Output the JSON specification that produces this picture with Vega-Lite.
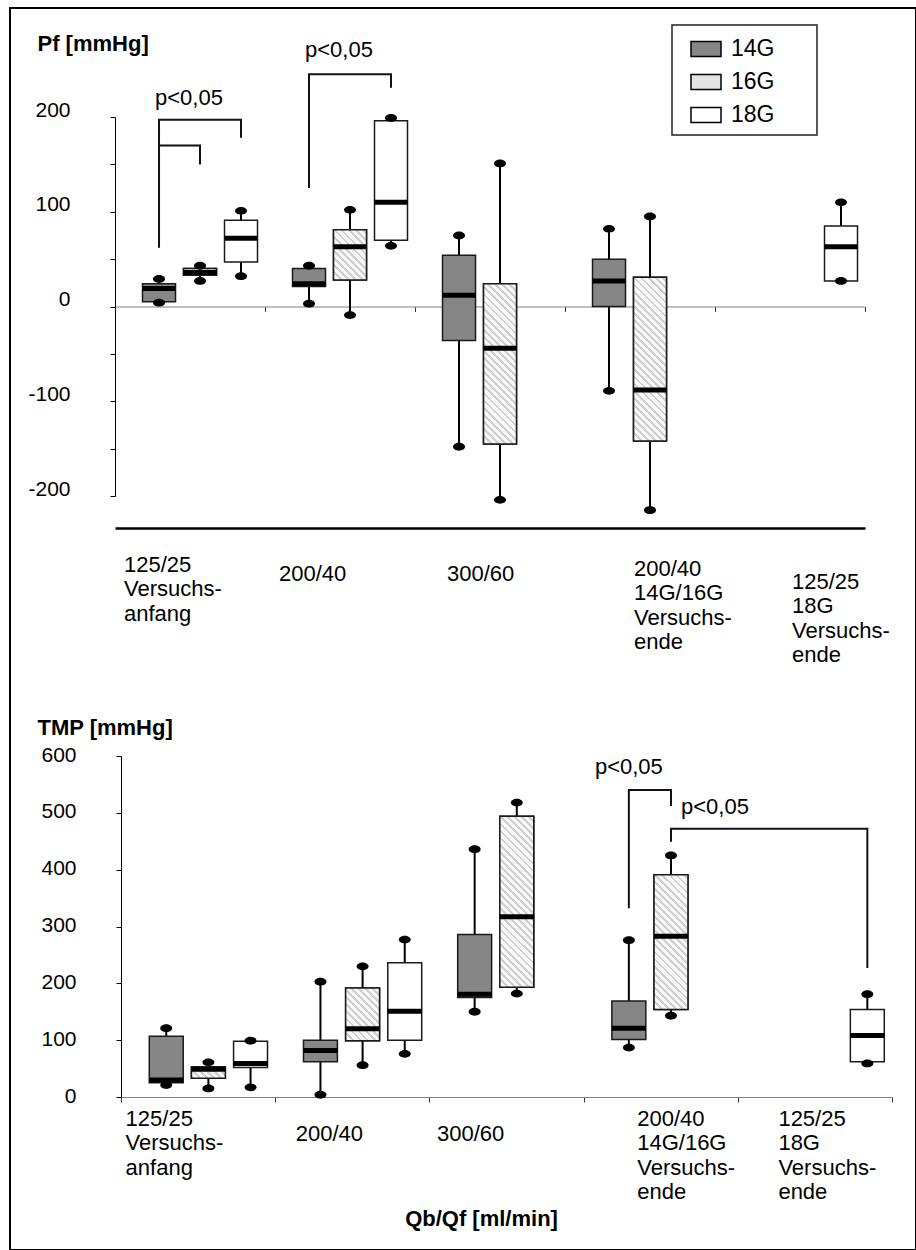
{
  "$schema": "https://vega.github.io/schema/vega-lite/v6.json",
  "width": 906,
  "height": 1242,
  "autosize": {"type": "none"},
  "padding": {"left": 10, "top": 8, "right": 0, "bottom": 0},
  "background": "white",
  "params": [
    {"name": "hatch", "value": [
      {"offset": 0, "color": "#cfcfcf"}, {"offset": 0.0133, "color": "#cfcfcf"}, {"offset": 0.0133, "color": "#f8f8f8"}, {"offset": 0.0333, "color": "#f8f8f8"},
      {"offset": 0.0333, "color": "#cfcfcf"}, {"offset": 0.0467, "color": "#cfcfcf"}, {"offset": 0.0467, "color": "#f8f8f8"}, {"offset": 0.0667, "color": "#f8f8f8"},
      {"offset": 0.0667, "color": "#cfcfcf"}, {"offset": 0.08, "color": "#cfcfcf"}, {"offset": 0.08, "color": "#f8f8f8"}, {"offset": 0.1, "color": "#f8f8f8"},
      {"offset": 0.1, "color": "#cfcfcf"}, {"offset": 0.1133, "color": "#cfcfcf"}, {"offset": 0.1133, "color": "#f8f8f8"}, {"offset": 0.1333, "color": "#f8f8f8"},
      {"offset": 0.1333, "color": "#cfcfcf"}, {"offset": 0.1467, "color": "#cfcfcf"}, {"offset": 0.1467, "color": "#f8f8f8"}, {"offset": 0.1667, "color": "#f8f8f8"},
      {"offset": 0.1667, "color": "#cfcfcf"}, {"offset": 0.18, "color": "#cfcfcf"}, {"offset": 0.18, "color": "#f8f8f8"}, {"offset": 0.2, "color": "#f8f8f8"},
      {"offset": 0.2, "color": "#cfcfcf"}, {"offset": 0.2133, "color": "#cfcfcf"}, {"offset": 0.2133, "color": "#f8f8f8"}, {"offset": 0.2333, "color": "#f8f8f8"},
      {"offset": 0.2333, "color": "#cfcfcf"}, {"offset": 0.2467, "color": "#cfcfcf"}, {"offset": 0.2467, "color": "#f8f8f8"}, {"offset": 0.2667, "color": "#f8f8f8"},
      {"offset": 0.2667, "color": "#cfcfcf"}, {"offset": 0.28, "color": "#cfcfcf"}, {"offset": 0.28, "color": "#f8f8f8"}, {"offset": 0.3, "color": "#f8f8f8"},
      {"offset": 0.3, "color": "#cfcfcf"}, {"offset": 0.3133, "color": "#cfcfcf"}, {"offset": 0.3133, "color": "#f8f8f8"}, {"offset": 0.3333, "color": "#f8f8f8"},
      {"offset": 0.3333, "color": "#cfcfcf"}, {"offset": 0.3467, "color": "#cfcfcf"}, {"offset": 0.3467, "color": "#f8f8f8"}, {"offset": 0.3667, "color": "#f8f8f8"},
      {"offset": 0.3667, "color": "#cfcfcf"}, {"offset": 0.38, "color": "#cfcfcf"}, {"offset": 0.38, "color": "#f8f8f8"}, {"offset": 0.4, "color": "#f8f8f8"},
      {"offset": 0.4, "color": "#cfcfcf"}, {"offset": 0.4133, "color": "#cfcfcf"}, {"offset": 0.4133, "color": "#f8f8f8"}, {"offset": 0.4333, "color": "#f8f8f8"},
      {"offset": 0.4333, "color": "#cfcfcf"}, {"offset": 0.4467, "color": "#cfcfcf"}, {"offset": 0.4467, "color": "#f8f8f8"}, {"offset": 0.4667, "color": "#f8f8f8"},
      {"offset": 0.4667, "color": "#cfcfcf"}, {"offset": 0.48, "color": "#cfcfcf"}, {"offset": 0.48, "color": "#f8f8f8"}, {"offset": 0.5, "color": "#f8f8f8"},
      {"offset": 0.5, "color": "#cfcfcf"}, {"offset": 0.5133, "color": "#cfcfcf"}, {"offset": 0.5133, "color": "#f8f8f8"}, {"offset": 0.5333, "color": "#f8f8f8"},
      {"offset": 0.5333, "color": "#cfcfcf"}, {"offset": 0.5467, "color": "#cfcfcf"}, {"offset": 0.5467, "color": "#f8f8f8"}, {"offset": 0.5667, "color": "#f8f8f8"},
      {"offset": 0.5667, "color": "#cfcfcf"}, {"offset": 0.58, "color": "#cfcfcf"}, {"offset": 0.58, "color": "#f8f8f8"}, {"offset": 0.6, "color": "#f8f8f8"},
      {"offset": 0.6, "color": "#cfcfcf"}, {"offset": 0.6133, "color": "#cfcfcf"}, {"offset": 0.6133, "color": "#f8f8f8"}, {"offset": 0.6333, "color": "#f8f8f8"},
      {"offset": 0.6333, "color": "#cfcfcf"}, {"offset": 0.6467, "color": "#cfcfcf"}, {"offset": 0.6467, "color": "#f8f8f8"}, {"offset": 0.6667, "color": "#f8f8f8"},
      {"offset": 0.6667, "color": "#cfcfcf"}, {"offset": 0.68, "color": "#cfcfcf"}, {"offset": 0.68, "color": "#f8f8f8"}, {"offset": 0.7, "color": "#f8f8f8"},
      {"offset": 0.7, "color": "#cfcfcf"}, {"offset": 0.7133, "color": "#cfcfcf"}, {"offset": 0.7133, "color": "#f8f8f8"}, {"offset": 0.7333, "color": "#f8f8f8"},
      {"offset": 0.7333, "color": "#cfcfcf"}, {"offset": 0.7467, "color": "#cfcfcf"}, {"offset": 0.7467, "color": "#f8f8f8"}, {"offset": 0.7667, "color": "#f8f8f8"},
      {"offset": 0.7667, "color": "#cfcfcf"}, {"offset": 0.78, "color": "#cfcfcf"}, {"offset": 0.78, "color": "#f8f8f8"}, {"offset": 0.8, "color": "#f8f8f8"},
      {"offset": 0.8, "color": "#cfcfcf"}, {"offset": 0.8133, "color": "#cfcfcf"}, {"offset": 0.8133, "color": "#f8f8f8"}, {"offset": 0.8333, "color": "#f8f8f8"},
      {"offset": 0.8333, "color": "#cfcfcf"}, {"offset": 0.8467, "color": "#cfcfcf"}, {"offset": 0.8467, "color": "#f8f8f8"}, {"offset": 0.8667, "color": "#f8f8f8"},
      {"offset": 0.8667, "color": "#cfcfcf"}, {"offset": 0.88, "color": "#cfcfcf"}, {"offset": 0.88, "color": "#f8f8f8"}, {"offset": 0.9, "color": "#f8f8f8"},
      {"offset": 0.9, "color": "#cfcfcf"}, {"offset": 0.9133, "color": "#cfcfcf"}, {"offset": 0.9133, "color": "#f8f8f8"}, {"offset": 0.9333, "color": "#f8f8f8"},
      {"offset": 0.9333, "color": "#cfcfcf"}, {"offset": 0.9467, "color": "#cfcfcf"}, {"offset": 0.9467, "color": "#f8f8f8"}, {"offset": 0.9667, "color": "#f8f8f8"},
      {"offset": 0.9667, "color": "#cfcfcf"}, {"offset": 0.98, "color": "#cfcfcf"}, {"offset": 0.98, "color": "#f8f8f8"}, {"offset": 1, "color": "#f8f8f8"}
    ]}
  ],
  "config": {
    "font": "Liberation Sans",
    "view": {"stroke": "black", "strokeWidth": 2},
    "axis": {"labelFont": "Liberation Sans", "titleFont": "Liberation Sans", "labelColor": "black", "titleColor": "black", "grid": false, "labelAngle": 0},
    "legend": {"strokeWidth": 1.5}
  },
  "datasets": {
    "pf": [
      {"cat": "125/25 Versuchsanfang", "group": "14G", "min": 4, "q1": 5, "median": 19, "q3": 24, "max": 29},
      {"cat": "125/25 Versuchsanfang", "group": "16G", "min": 27, "q1": 33, "median": 36, "q3": 40, "max": 43},
      {"cat": "125/25 Versuchsanfang", "group": "18G", "min": 32, "q1": 47, "median": 72, "q3": 91, "max": 101},
      {"cat": "200/40", "group": "14G", "min": 3, "q1": 21, "median": 24, "q3": 40, "max": 43},
      {"cat": "200/40", "group": "16G", "min": -9, "q1": 28, "median": 63, "q3": 81, "max": 102},
      {"cat": "200/40", "group": "18G", "min": 64, "q1": 70, "median": 110, "q3": 196, "max": 199},
      {"cat": "300/60", "group": "14G", "min": -148, "q1": -36, "median": 12, "q3": 54, "max": 75},
      {"cat": "300/60", "group": "16G", "min": -204, "q1": -145, "median": -44, "q3": 24, "max": 151},
      {"cat": "200/40 14G/16G Versuchsende", "group": "14G", "min": -89, "q1": 0, "median": 27, "q3": 50, "max": 82},
      {"cat": "200/40 14G/16G Versuchsende", "group": "16G", "min": -215, "q1": -142, "median": -88, "q3": 31, "max": 95},
      {"cat": "125/25 18G Versuchsende", "group": "18G", "min": 27, "q1": 27, "median": 63, "q3": 85, "max": 110}
    ],
    "tmp": [
      {"cat": "125/25 Versuchsanfang", "group": "14G", "min": 21, "q1": 25, "median": 30, "q3": 107, "max": 121},
      {"cat": "125/25 Versuchsanfang", "group": "16G", "min": 15, "q1": 33, "median": 49, "q3": 53, "max": 61},
      {"cat": "125/25 Versuchsanfang", "group": "18G", "min": 17, "q1": 52, "median": 59, "q3": 98, "max": 99},
      {"cat": "200/40", "group": "14G", "min": 4, "q1": 62, "median": 82, "q3": 100, "max": 203},
      {"cat": "200/40", "group": "16G", "min": 56, "q1": 99, "median": 120, "q3": 192, "max": 230},
      {"cat": "200/40", "group": "18G", "min": 76, "q1": 100, "median": 151, "q3": 236, "max": 277},
      {"cat": "300/60", "group": "14G", "min": 150, "q1": 175, "median": 181, "q3": 286, "max": 436},
      {"cat": "300/60", "group": "16G", "min": 182, "q1": 193, "median": 317, "q3": 494, "max": 518},
      {"cat": "200/40 14G/16G Versuchsende", "group": "14G", "min": 87, "q1": 101, "median": 121, "q3": 169, "max": 276},
      {"cat": "200/40 14G/16G Versuchsende", "group": "16G", "min": 143, "q1": 154, "median": 283, "q3": 391, "max": 425},
      {"cat": "125/25 18G Versuchsende", "group": "18G", "min": 59, "q1": 62, "median": 108, "q3": 154, "max": 181}
    ],
    "pfBrackets": [
      {"id": "A1", "seq": 1, "cat": "125/25 Versuchsanfang", "group": "14G", "value": 62},
      {"id": "A1", "seq": 2, "cat": "125/25 Versuchsanfang", "group": "14G", "value": 197},
      {"id": "A1", "seq": 3, "cat": "125/25 Versuchsanfang", "group": "18G", "value": 197},
      {"id": "A1", "seq": 4, "cat": "125/25 Versuchsanfang", "group": "18G", "value": 178},
      {"id": "A2", "seq": 1, "cat": "125/25 Versuchsanfang", "group": "14G", "value": 170},
      {"id": "A2", "seq": 2, "cat": "125/25 Versuchsanfang", "group": "16G", "value": 170},
      {"id": "A2", "seq": 3, "cat": "125/25 Versuchsanfang", "group": "16G", "value": 150},
      {"id": "B", "seq": 1, "cat": "200/40", "group": "14G", "value": 125},
      {"id": "B", "seq": 2, "cat": "200/40", "group": "14G", "value": 245},
      {"id": "B", "seq": 3, "cat": "200/40", "group": "18G", "value": 245},
      {"id": "B", "seq": 4, "cat": "200/40", "group": "18G", "value": 231}
    ],
    "tmpBrackets": [
      {"id": "C", "seq": 1, "cat": "200/40 14G/16G Versuchsende", "group": "14G", "value": 332},
      {"id": "C", "seq": 2, "cat": "200/40 14G/16G Versuchsende", "group": "14G", "value": 540},
      {"id": "C", "seq": 3, "cat": "200/40 14G/16G Versuchsende", "group": "16G", "value": 540},
      {"id": "C", "seq": 4, "cat": "200/40 14G/16G Versuchsende", "group": "16G", "value": 512},
      {"id": "D", "seq": 1, "cat": "200/40 14G/16G Versuchsende", "group": "16G", "value": 449},
      {"id": "D", "seq": 2, "cat": "200/40 14G/16G Versuchsende", "group": "16G", "value": 472},
      {"id": "D", "seq": 3, "cat": "125/25 18G Versuchsende", "group": "18G", "value": 472},
      {"id": "D", "seq": 4, "cat": "125/25 18G Versuchsende", "group": "18G", "value": 227}
    ],
    "pfNotes": [
      {"id": "A", "cat": "125/25 Versuchsanfang", "group": "14G", "value": 220, "text": "p<0,05"},
      {"id": "B", "cat": "200/40", "group": "14G", "value": 271, "text": "p<0,05"}
    ],
    "tmpNotes": [
      {"id": "C", "cat": "200/40 14G/16G Versuchsende", "group": "14G", "value": 581, "text": "p<0,05"},
      {"id": "D", "cat": "200/40 14G/16G Versuchsende", "group": "16G", "value": 511, "text": "p<0,05"}
    ]
  },
  "layer": [
    {
      "data": {"name": "pf"},
      "mark": {"type": "rule", "color": "black", "strokeWidth": 2},
      "encoding": {
        "x": {
          "field": "cat", "type": "nominal",
          "scale": {"type": "band", "domain": ["125/25 Versuchsanfang", "200/40", "300/60", "200/40 14G/16G Versuchsende", "125/25 18G Versuchsende"], "range": [105, 855], "paddingInner": 0, "paddingOuter": 0},
          "axis": {"orient": "bottom", "offset": -943.5, "labels": false, "title": null, "domainColor": "#808080", "domainWidth": 1, "ticks": true, "tickBand": "extent", "tickSize": 5, "tickColor": "#333333", "tickWidth": 1}
        },
        "xOffset": {"field": "group", "type": "nominal", "scale": {"type": "band", "domain": ["14G", "16G", "18G"], "paddingInner": 0.195, "paddingOuter": 0.427, "align": 0.786}},
        "y": {
          "field": "min", "type": "quantitative",
          "scale": {"domain": [-200, 200], "range": [488, 109], "nice": false, "zero": false},
          "axis": {"orient": "left", "offset": -105, "values": [-200, -150, -100, -50, 0, 50, 100, 150, 200], "labelExpr": "datum.value % 100 == 0 ? '' + datum.value : ''", "labelFontSize": 21, "labelPadding": 40, "labelOffset": -7, "labelOverlap": false, "tickSize": 5, "tickColor": "black", "domainColor": "black", "domainWidth": 1, "title": "Pf [mmHg]", "titleAngle": 0, "titleAlign": "left", "titleBaseline": "middle", "titleX": -78, "titleY": 35, "titleFontSize": 22, "titleFontWeight": "bold"}
        },
        "y2": {"field": "max"}
      }
    },
    {
      "data": {"name": "pf"},
      "mark": {"type": "bar", "stroke": "#1a1a1a", "strokeWidth": 1.5},
      "encoding": {
        "x": {
          "field": "cat", "type": "nominal",
          "scale": {"type": "band", "domain": ["125/25 Versuchsanfang", "200/40", "300/60", "200/40 14G/16G Versuchsende", "125/25 18G Versuchsende"], "range": [105, 855], "paddingInner": 0, "paddingOuter": 0},
          "axis": {
            "orient": "bottom", "offset": -722, "title": null, "domainColor": "black", "domainWidth": 2.5, "ticks": false, "tickSize": 0, "labelAngle": 0,
            "labelAlign": "left", "labelBaseline": "top", "labelFontSize": 22, "labelLineHeight": 24.5, "labelOverlap": false, "labelLimit": 300,
            "labelExpr": "datum.value == '125/25 Versuchsanfang' ? ['125/25', 'Versuchs-', 'anfang'] : datum.value == '200/40 14G/16G Versuchsende' ? ['200/40', '14G/16G', 'Versuchs-', 'ende'] : datum.value == '125/25 18G Versuchsende' ? ['125/25', '18G', 'Versuchs-', 'ende'] : datum.label",
            "labelOffset": {"condition": [
              {"test": "datum.value == '125/25 Versuchsanfang'", "value": -66},
              {"test": "datum.value == '200/40'", "value": -61},
              {"test": "datum.value == '300/60'", "value": -43},
              {"test": "datum.value == '200/40 14G/16G Versuchsende'", "value": -6}
            ], "value": 2},
            "labelPadding": {"condition": [
              {"test": "datum.value == '125/25 Versuchsanfang'", "value": 26},
              {"test": "datum.value == '200/40'", "value": 35},
              {"test": "datum.value == '300/60'", "value": 35},
              {"test": "datum.value == '200/40 14G/16G Versuchsende'", "value": 30}
            ], "value": 43}
          }
        },
        "xOffset": {"field": "group", "type": "nominal", "scale": {"type": "band", "domain": ["14G", "16G", "18G"], "paddingInner": 0.195, "paddingOuter": 0.427, "align": 0.786}},
        "y": {"field": "q1", "type": "quantitative", "scale": {"domain": [-200, 200], "range": [488, 109], "nice": false, "zero": false}, "axis": null},
        "y2": {"field": "q3"},
        "fill": {
          "field": "group", "type": "nominal",
          "scale": {"domain": ["14G", "16G", "18G"], "range": ["#868686", "#e4e4e4", "#ffffff"]},
          "legend": {"title": null, "orient": "none", "legendX": 662, "legendY": 17, "direction": "vertical", "symbolType": "M-1,-0.5H1V0.5H-1Z", "symbolSize": 900, "symbolStrokeColor": "black", "symbolStrokeWidth": 1.5, "labelFontSize": 23, "labelFont": "Liberation Sans", "labelColor": "black", "labelOffset": 9, "symbolOffset": 10, "padding": 8, "rowPadding": 5, "strokeColor": "#222222", "labelExpr": "datum.label + '\u2800\u2800'"}
        }
      }
    },
    {
      "data": {"name": "pf"},
      "transform": [{"filter": "datum.group == '16G'"}],
      "mark": {"type": "bar", "stroke": "#1a1a1a", "strokeWidth": 1.5, "fill": {"expr": "{gradient: 'linear', x1: 0, y1: 1, x2: 212.13 * 33 / (1089 + pow((datum.q3 - datum.q1) * 0.9475, 2)), y2: 1 - 212.13 * (datum.q3 - datum.q1) * 0.9475 / (1089 + pow((datum.q3 - datum.q1) * 0.9475, 2)), stops: hatch}"}},
      "encoding": {
        "x": {"field": "cat", "type": "nominal", "scale": {"type": "band", "domain": ["125/25 Versuchsanfang", "200/40", "300/60", "200/40 14G/16G Versuchsende", "125/25 18G Versuchsende"], "range": [105, 855], "paddingInner": 0, "paddingOuter": 0}, "axis": null},
        "xOffset": {"field": "group", "type": "nominal", "scale": {"type": "band", "domain": ["14G", "16G", "18G"], "paddingInner": 0.195, "paddingOuter": 0.427, "align": 0.786}},
        "y": {"field": "q1", "type": "quantitative", "scale": {"domain": [-200, 200], "range": [488, 109], "nice": false, "zero": false}, "axis": null},
        "y2": {"field": "q3"}
      }
    },
    {
      "data": {"name": "pf"},
      "mark": {"type": "tick", "color": "black", "thickness": 5, "size": 33, "opacity": 1},
      "encoding": {
        "x": {"field": "cat", "type": "nominal", "scale": {"type": "band", "domain": ["125/25 Versuchsanfang", "200/40", "300/60", "200/40 14G/16G Versuchsende", "125/25 18G Versuchsende"], "range": [105, 855], "paddingInner": 0, "paddingOuter": 0}, "axis": null},
        "xOffset": {"field": "group", "type": "nominal", "scale": {"type": "band", "domain": ["14G", "16G", "18G"], "paddingInner": 0.195, "paddingOuter": 0.427, "align": 0.786}},
        "y": {"field": "median", "type": "quantitative", "scale": {"domain": [-200, 200], "range": [488, 109], "nice": false, "zero": false}, "axis": null}
      }
    },
    {
      "data": {"name": "pf"},
      "mark": {"type": "point", "shape": "M-1,0A1,0.65,0,1,0,1,0A1,0.65,0,1,0,-1,0Z", "size": 144, "filled": true, "color": "black", "opacity": 1},
      "encoding": {
        "x": {"field": "cat", "type": "nominal", "scale": {"type": "band", "domain": ["125/25 Versuchsanfang", "200/40", "300/60", "200/40 14G/16G Versuchsende", "125/25 18G Versuchsende"], "range": [105, 855], "paddingInner": 0, "paddingOuter": 0}, "axis": null},
        "xOffset": {"field": "group", "type": "nominal", "scale": {"type": "band", "domain": ["14G", "16G", "18G"], "paddingInner": 0.195, "paddingOuter": 0.427, "align": 0.786}},
        "y": {"field": "min", "type": "quantitative", "scale": {"domain": [-200, 200], "range": [488, 109], "nice": false, "zero": false}, "axis": null}
      }
    },
    {
      "data": {"name": "pf"},
      "mark": {"type": "point", "shape": "M-1,0A1,0.65,0,1,0,1,0A1,0.65,0,1,0,-1,0Z", "size": 144, "filled": true, "color": "black", "opacity": 1},
      "encoding": {
        "x": {"field": "cat", "type": "nominal", "scale": {"type": "band", "domain": ["125/25 Versuchsanfang", "200/40", "300/60", "200/40 14G/16G Versuchsende", "125/25 18G Versuchsende"], "range": [105, 855], "paddingInner": 0, "paddingOuter": 0}, "axis": null},
        "xOffset": {"field": "group", "type": "nominal", "scale": {"type": "band", "domain": ["14G", "16G", "18G"], "paddingInner": 0.195, "paddingOuter": 0.427, "align": 0.786}},
        "y": {"field": "max", "type": "quantitative", "scale": {"domain": [-200, 200], "range": [488, 109], "nice": false, "zero": false}, "axis": null}
      }
    },
    {
      "data": {"name": "pfBrackets"},
      "mark": {"type": "line", "color": "#111111", "strokeWidth": 2},
      "encoding": {
        "x": {"field": "cat", "type": "nominal", "scale": {"type": "band", "domain": ["125/25 Versuchsanfang", "200/40", "300/60", "200/40 14G/16G Versuchsende", "125/25 18G Versuchsende"], "range": [105, 855], "paddingInner": 0, "paddingOuter": 0}, "axis": null},
        "xOffset": {"field": "group", "type": "nominal", "scale": {"type": "band", "domain": ["14G", "16G", "18G"], "paddingInner": 0.195, "paddingOuter": 0.427, "align": 0.786}},
        "y": {"field": "value", "type": "quantitative", "scale": {"domain": [-200, 200], "range": [488, 109], "nice": false, "zero": false}, "axis": null},
        "detail": {"field": "id", "type": "nominal"},
        "order": {"field": "seq", "type": "quantitative"}
      }
    },
    {
      "data": {"name": "pfNotes"},
      "mark": {"type": "text", "align": "left", "baseline": "middle", "fontSize": 22, "font": "Liberation Sans", "color": "black", "dx": -4},
      "encoding": {
        "x": {"field": "cat", "type": "nominal", "scale": {"type": "band", "domain": ["125/25 Versuchsanfang", "200/40", "300/60", "200/40 14G/16G Versuchsende", "125/25 18G Versuchsende"], "range": [105, 855], "paddingInner": 0, "paddingOuter": 0}, "axis": null},
        "xOffset": {"field": "group", "type": "nominal", "scale": {"type": "band", "domain": ["14G", "16G", "18G"], "paddingInner": 0.195, "paddingOuter": 0.427, "align": 0.786}},
        "y": {"field": "value", "type": "quantitative", "scale": {"domain": [-200, 200], "range": [488, 109], "nice": false, "zero": false}, "axis": null},
        "text": {"field": "text"}
      }
    },
    {
      "data": {"name": "tmp"},
      "mark": {"type": "rule", "color": "black", "strokeWidth": 2},
      "encoding": {
        "x": {
          "field": "cat", "type": "nominal",
          "scale": {"type": "band", "domain": ["125/25 Versuchsanfang", "200/40", "300/60", "200/40 14G/16G Versuchsende", "125/25 18G Versuchsende"], "range": [111, 882], "paddingInner": 0, "paddingOuter": 0},
          "axis": {
            "orient": "bottom", "offset": -153, "domainColor": "#808080", "domainWidth": 1, "ticks": true, "tickBand": "extent", "tickSize": 5, "tickColor": "#333333", "tickWidth": 1, "labelAngle": 0,
            "labelAlign": "left", "labelBaseline": "top", "labelFontSize": 22, "labelLineHeight": 24.5, "labelOverlap": false, "labelLimit": 300,
            "labelExpr": "datum.value == '125/25 Versuchsanfang' ? ['125/25', 'Versuchs-', 'anfang'] : datum.value == '200/40 14G/16G Versuchsende' ? ['200/40', '14G/16G', 'Versuchs-', 'ende'] : datum.value == '125/25 18G Versuchsende' ? ['125/25', '18G', 'Versuchs-', 'ende'] : datum.label",
            "labelOffset": {"condition": [
              {"test": "datum.value == '125/25 Versuchsanfang'", "value": -73},
              {"test": "datum.value == '200/40'", "value": -57},
              {"test": "datum.value == '300/60'", "value": -70},
              {"test": "datum.value == '200/40 14G/16G Versuchsende'", "value": -24}
            ], "value": -37},
            "labelPadding": {"condition": [
              {"test": "datum.value == '200/40'", "value": 21},
              {"test": "datum.value == '300/60'", "value": 21}
            ], "value": 6},
            "title": "Qb/Qf [ml/min]", "titleFontSize": 22, "titleFontWeight": "bold", "titleX": 471, "titleY": 121, "titleAlign": "center", "titleBaseline": "middle"
          }
        },
        "xOffset": {"field": "group", "type": "nominal", "scale": {"type": "band", "domain": ["14G", "16G", "18G"], "paddingInner": 0.195, "paddingOuter": 0.427, "align": 0.786}},
        "y": {
          "field": "min", "type": "quantitative",
          "scale": {"domain": [0, 600], "range": [1089, 748], "nice": false, "zero": false},
          "axis": {"orient": "left", "offset": -111, "values": [0, 100, 200, 300, 400, 500, 600], "labelExpr": "'' + datum.value", "labelFontSize": 21, "labelPadding": 40, "labelOffset": -1, "labelOverlap": false, "tickSize": 5, "tickColor": "black", "domainColor": "black", "domainWidth": 1, "title": "TMP [mmHg]", "titleAngle": 0, "titleAlign": "left", "titleBaseline": "middle", "titleX": -84, "titleY": 719, "titleFontSize": 22, "titleFontWeight": "bold"}
        },
        "y2": {"field": "max"}
      }
    },
    {
      "data": {"name": "tmp"},
      "mark": {"type": "bar", "stroke": "#1a1a1a", "strokeWidth": 1.5},
      "encoding": {
        "x": {"field": "cat", "type": "nominal", "scale": {"type": "band", "domain": ["125/25 Versuchsanfang", "200/40", "300/60", "200/40 14G/16G Versuchsende", "125/25 18G Versuchsende"], "range": [111, 882], "paddingInner": 0, "paddingOuter": 0}, "axis": null},
        "xOffset": {"field": "group", "type": "nominal", "scale": {"type": "band", "domain": ["14G", "16G", "18G"], "paddingInner": 0.195, "paddingOuter": 0.427, "align": 0.786}},
        "y": {"field": "q1", "type": "quantitative", "scale": {"domain": [0, 600], "range": [1089, 748], "nice": false, "zero": false}, "axis": null},
        "y2": {"field": "q3"},
        "fill": {"field": "group", "type": "nominal", "legend": null}
      }
    },
    {
      "data": {"name": "tmp"},
      "transform": [{"filter": "datum.group == '16G'"}],
      "mark": {"type": "bar", "stroke": "#1a1a1a", "strokeWidth": 1.5, "fill": {"expr": "{gradient: 'linear', x1: 0, y1: 1, x2: 212.13 * 33.9 / (1149 + pow((datum.q3 - datum.q1) * 0.5683, 2)), y2: 1 - 212.13 * (datum.q3 - datum.q1) * 0.5683 / (1149 + pow((datum.q3 - datum.q1) * 0.5683, 2)), stops: hatch}"}},
      "encoding": {
        "x": {"field": "cat", "type": "nominal", "scale": {"type": "band", "domain": ["125/25 Versuchsanfang", "200/40", "300/60", "200/40 14G/16G Versuchsende", "125/25 18G Versuchsende"], "range": [111, 882], "paddingInner": 0, "paddingOuter": 0}, "axis": null},
        "xOffset": {"field": "group", "type": "nominal", "scale": {"type": "band", "domain": ["14G", "16G", "18G"], "paddingInner": 0.195, "paddingOuter": 0.427, "align": 0.786}},
        "y": {"field": "q1", "type": "quantitative", "scale": {"domain": [0, 600], "range": [1089, 748], "nice": false, "zero": false}, "axis": null},
        "y2": {"field": "q3"}
      }
    },
    {
      "data": {"name": "tmp"},
      "mark": {"type": "tick", "color": "black", "thickness": 5, "size": 34, "opacity": 1},
      "encoding": {
        "x": {"field": "cat", "type": "nominal", "scale": {"type": "band", "domain": ["125/25 Versuchsanfang", "200/40", "300/60", "200/40 14G/16G Versuchsende", "125/25 18G Versuchsende"], "range": [111, 882], "paddingInner": 0, "paddingOuter": 0}, "axis": null},
        "xOffset": {"field": "group", "type": "nominal", "scale": {"type": "band", "domain": ["14G", "16G", "18G"], "paddingInner": 0.195, "paddingOuter": 0.427, "align": 0.786}},
        "y": {"field": "median", "type": "quantitative", "scale": {"domain": [0, 600], "range": [1089, 748], "nice": false, "zero": false}, "axis": null}
      }
    },
    {
      "data": {"name": "tmp"},
      "mark": {"type": "point", "shape": "M-1,0A1,0.65,0,1,0,1,0A1,0.65,0,1,0,-1,0Z", "size": 144, "filled": true, "color": "black", "opacity": 1},
      "encoding": {
        "x": {"field": "cat", "type": "nominal", "scale": {"type": "band", "domain": ["125/25 Versuchsanfang", "200/40", "300/60", "200/40 14G/16G Versuchsende", "125/25 18G Versuchsende"], "range": [111, 882], "paddingInner": 0, "paddingOuter": 0}, "axis": null},
        "xOffset": {"field": "group", "type": "nominal", "scale": {"type": "band", "domain": ["14G", "16G", "18G"], "paddingInner": 0.195, "paddingOuter": 0.427, "align": 0.786}},
        "y": {"field": "min", "type": "quantitative", "scale": {"domain": [0, 600], "range": [1089, 748], "nice": false, "zero": false}, "axis": null}
      }
    },
    {
      "data": {"name": "tmp"},
      "mark": {"type": "point", "shape": "M-1,0A1,0.65,0,1,0,1,0A1,0.65,0,1,0,-1,0Z", "size": 144, "filled": true, "color": "black", "opacity": 1},
      "encoding": {
        "x": {"field": "cat", "type": "nominal", "scale": {"type": "band", "domain": ["125/25 Versuchsanfang", "200/40", "300/60", "200/40 14G/16G Versuchsende", "125/25 18G Versuchsende"], "range": [111, 882], "paddingInner": 0, "paddingOuter": 0}, "axis": null},
        "xOffset": {"field": "group", "type": "nominal", "scale": {"type": "band", "domain": ["14G", "16G", "18G"], "paddingInner": 0.195, "paddingOuter": 0.427, "align": 0.786}},
        "y": {"field": "max", "type": "quantitative", "scale": {"domain": [0, 600], "range": [1089, 748], "nice": false, "zero": false}, "axis": null}
      }
    },
    {
      "data": {"name": "tmpBrackets"},
      "mark": {"type": "line", "color": "#111111", "strokeWidth": 2},
      "encoding": {
        "x": {"field": "cat", "type": "nominal", "scale": {"type": "band", "domain": ["125/25 Versuchsanfang", "200/40", "300/60", "200/40 14G/16G Versuchsende", "125/25 18G Versuchsende"], "range": [111, 882], "paddingInner": 0, "paddingOuter": 0}, "axis": null},
        "xOffset": {"field": "group", "type": "nominal", "scale": {"type": "band", "domain": ["14G", "16G", "18G"], "paddingInner": 0.195, "paddingOuter": 0.427, "align": 0.786}},
        "y": {"field": "value", "type": "quantitative", "scale": {"domain": [0, 600], "range": [1089, 748], "nice": false, "zero": false}, "axis": null},
        "detail": {"field": "id", "type": "nominal"},
        "order": {"field": "seq", "type": "quantitative"}
      }
    },
    {
      "data": {"name": "tmpNotes"},
      "transform": [{"filter": "datum.id == 'C'"}],
      "mark": {"type": "text", "align": "center", "baseline": "middle", "fontSize": 22, "font": "Liberation Sans", "color": "black"},
      "encoding": {
        "x": {"field": "cat", "type": "nominal", "scale": {"type": "band", "domain": ["125/25 Versuchsanfang", "200/40", "300/60", "200/40 14G/16G Versuchsende", "125/25 18G Versuchsende"], "range": [111, 882], "paddingInner": 0, "paddingOuter": 0}, "axis": null},
        "xOffset": {"field": "group", "type": "nominal", "scale": {"type": "band", "domain": ["14G", "16G", "18G"], "paddingInner": 0.195, "paddingOuter": 0.427, "align": 0.786}},
        "y": {"field": "value", "type": "quantitative", "scale": {"domain": [0, 600], "range": [1089, 748], "nice": false, "zero": false}, "axis": null},
        "text": {"field": "text"}
      }
    },
    {
      "data": {"name": "tmpNotes"},
      "transform": [{"filter": "datum.id == 'D'"}],
      "mark": {"type": "text", "align": "left", "baseline": "middle", "fontSize": 22, "font": "Liberation Sans", "color": "black", "dx": 10},
      "encoding": {
        "x": {"field": "cat", "type": "nominal", "scale": {"type": "band", "domain": ["125/25 Versuchsanfang", "200/40", "300/60", "200/40 14G/16G Versuchsende", "125/25 18G Versuchsende"], "range": [111, 882], "paddingInner": 0, "paddingOuter": 0}, "axis": null},
        "xOffset": {"field": "group", "type": "nominal", "scale": {"type": "band", "domain": ["14G", "16G", "18G"], "paddingInner": 0.195, "paddingOuter": 0.427, "align": 0.786}},
        "y": {"field": "value", "type": "quantitative", "scale": {"domain": [0, 600], "range": [1089, 748], "nice": false, "zero": false}, "axis": null},
        "text": {"field": "text"}
      }
    }
  ],
  "resolve": {"scale": {"x": "independent", "y": "independent", "xOffset": "independent"}}
}
